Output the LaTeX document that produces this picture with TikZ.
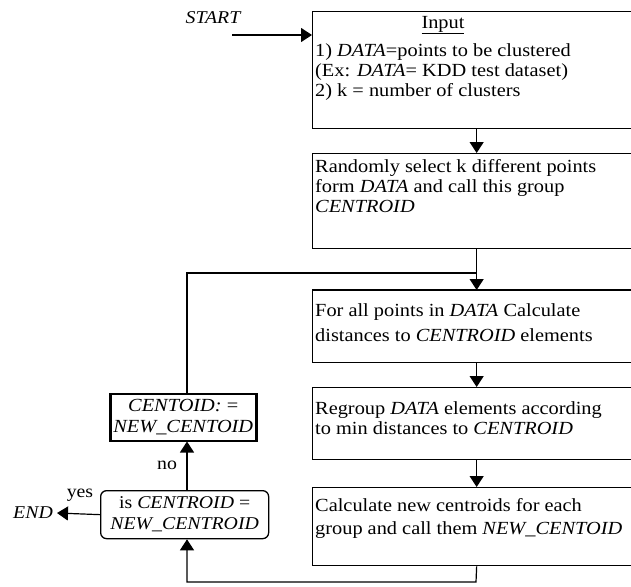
\documentclass[tikz,border=0pt]{standalone}
\usepackage{fontspec}
\setmainfont[FakeStretch=1.1]{Liberation Serif}
\usetikzlibrary{arrows.meta}
\begin{document}
\begin{tikzpicture}[x=1pt,y=-1pt,
  box/.style={draw,line width=1.3pt,anchor=north west,inner sep=0pt,minimum width=328pt},
  txt/.style={anchor=north west,align=left,inner sep=0pt,font=\fontsize{18.5}{20}\selectfont},
  lab/.style={inner sep=0pt,font=\fontsize{18}{20}\selectfont},
  conn/.style={line width=1.2pt},
  arr/.style={conn,-{Triangle[width=14pt,length=11pt]}}
]
\clip (0,0) rectangle (631,586);
% main boxes
\node[box,minimum height=117pt] (b1) at (312,11) {};
\node[box,minimum height=95pt] (b2) at (312,153) {};
\node[box,minimum height=72pt] (b3) at (312,290) {};
\node[box,minimum height=72pt] (b4) at (312,387) {};
\node[box,minimum height=78pt] (b5) at (312,487) {};
\draw[line width=2.5pt] (b3.north west) -- (b3.north east);
% side boxes
\node[draw,line width=1.5pt,anchor=north west,inner sep=0pt,minimum width=145pt,minimum height=47pt,
      align=center,font=\fontsize{18.5}{21}\selectfont] (cb) at (110,393)
  {\textit{CENTOID:} =\\ \textit{NEW\_CENTOID}};
\draw[line width=3pt] (cb.north west) -- (cb.south west) (cb.north east) -- (cb.south east);
\node[draw,line width=1.3pt,rounded corners=6pt,anchor=north west,inner sep=0pt,minimum width=168pt,minimum height=48pt,
      align=center,font=\fontsize{18}{21}\selectfont] (db) at (100,490)
  {is \textit{CENTROID} =\\ \textit{NEW\_CENTROID}};
% texts
\node[lab,font=\fontsize{18.5}{20}\selectfont] (tin) at (443,25) {\underline{Input}};
\node[txt] (t1) at (315,43) {1) \textit{DATA}=points to be clustered\\(Ex: \textit{DATA}= KDD test dataset)\\2) k = number of clusters};
\node[txt] (t2) at (315,159) {Randomly select k different points\\form \textit{DATA} and call this group\\\textit{CENTROID}};
\node[txt,font=\fontsize{18.5}{25}\selectfont] (t3) at (315,303) {For all points in \textit{DATA} Calculate\\distances to \textit{CENTROID} elements};
\node[txt] (t4) at (315,401) {Regroup \textit{DATA} elements according\\to min distances to \textit{CENTROID}};
\node[txt,font=\fontsize{18.5}{23}\selectfont] (t5) at (315,498) {Calculate new centroids for each\\group and call them \textit{NEW\_CENTOID}};
\node[lab,font=\fontsize{18}{20}\selectfont\itshape] (start) at (213,18) {START};
\coordinate (sin) at (232,35);
\node[lab,font=\fontsize{18}{20}\selectfont\itshape] (end) at (33,513) {END};
\node[lab] (yes) at (80,495) {yes};
\node[lab] (no) at (167,465) {no};
% junction coordinates
\coordinate (j1) at (187,273);
\coordinate (j2) at (476,273);
\coordinate (j3) at (476,582);
\coordinate (j4) at (187,582);
% connectors
\draw[arr] (sin) -- (sin -| b1.west);
\draw[arr] (b1.south) -- (b2.north);
\draw[arr] (b2.south) -- (b3.north);
\draw[arr] (b3.south) -- (b4.north);
\draw[arr] (b4.south) -- (b5.north);
\draw[arr] (b5.south) -- (j3) -- (j4) -- (db.south -| j4);
\draw[arr] (db.north -| j4) -- (cb.south -| j4);
\draw[conn] (cb.north -| j1) -- (j1) -- (j2);
\draw[arr] (db.west) -- ([xshift=4pt]end.east);
\end{tikzpicture}
\end{document}
